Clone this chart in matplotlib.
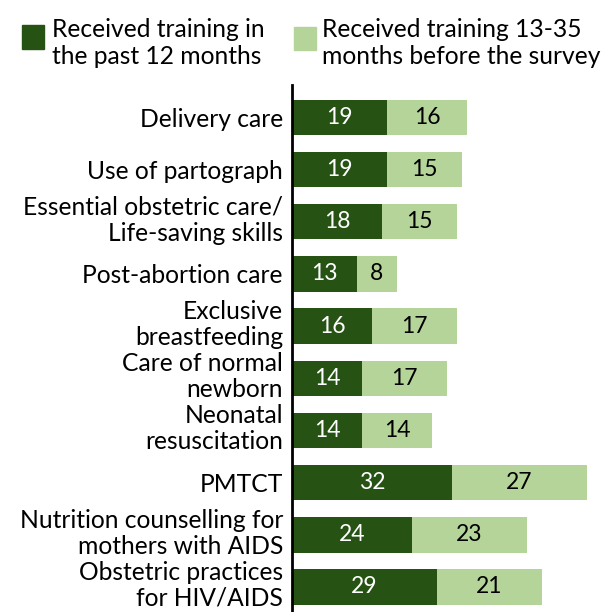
import numpy as np
import matplotlib
matplotlib.use('Agg')
import matplotlib.pyplot as plt
import matplotlib.transforms as mtransforms
from matplotlib.patches import Rectangle

categories = ['Delivery care', 'Use of partograph',
              'Essential obstetric care/\nLife-saving skills',
              'Post-abortion care', 'Exclusive\nbreastfeeding',
              'Care of normal\nnewborn', 'Neonatal\nresuscitation', 'PMTCT',
              'Nutrition counselling for\nmothers with AIDS',
              'Obstetric practices\nfor HIV/AIDS']
past_12 = [19, 19, 18, 13, 16, 14, 14, 32, 24, 29]
months_13_35 = [16, 15, 15, 8, 17, 17, 14, 27, 23, 21]

DARK = '#265314'
LIGHT = '#b5d49a'

plt.rcParams['font.family'] = ['Lato', 'DejaVu Sans']

fig = plt.figure(figsize=(6.12, 6.12), dpi=100)
ax = fig.add_axes([0.477, 0.0, 0.523, 0.861])

y = np.arange(len(categories))
ax.barh(y, past_12, height=0.68, color=DARK)
ax.barh(y, months_13_35, left=past_12, height=0.68, color=LIGHT)

for i in range(len(categories)):
    ax.text(past_12[i] / 2, y[i], str(past_12[i]), color='white',
            ha='center', va='center', fontsize=16.5)
    ax.text(past_12[i] + months_13_35[i] / 2, y[i], str(months_13_35[i]),
            color='black', ha='center', va='center', fontsize=16.5)

ax.set_xlim(0, 64)
ax.set_ylim(9.48, -0.62)
ax.set_yticks(y)
ax.set_yticklabels(categories, fontsize=17.7, linespacing=1.15)
ax.tick_params(axis='y', length=0, pad=6.5)
ax.set_xticks([])
for s in ['top', 'right', 'bottom']:
    ax.spines[s].set_visible(False)
ax.spines['left'].set_linewidth(2)

# two-line labels sit a bit higher in the original
for lab in ax.get_yticklabels():
    if '\n' in lab.get_text():
        off = mtransforms.ScaledTranslation(0, 5 / 100, fig.dpi_scale_trans)
        lab.set_transform(lab.get_transform() + off)

# legend
fig.patches.append(Rectangle((22 / 612, 1 - 49 / 612), 22 / 612, 24 / 612,
                             transform=fig.transFigure, color=DARK))
fig.patches.append(Rectangle((294 / 612, 1 - 50 / 612), 22 / 612, 23 / 612,
                             transform=fig.transFigure, color=LIGHT))
fig.text(52 / 612, 1 - 43 / 612, 'Received training in\nthe past 12 months',
         fontsize=17.7, va='center', ha='left', linespacing=1.2)
fig.text(322 / 612, 1 - 43 / 612, 'Received training 13-35\nmonths before the survey',
         fontsize=17.7, va='center', ha='left', linespacing=1.2)

fig.savefig('out.png', dpi=100)
